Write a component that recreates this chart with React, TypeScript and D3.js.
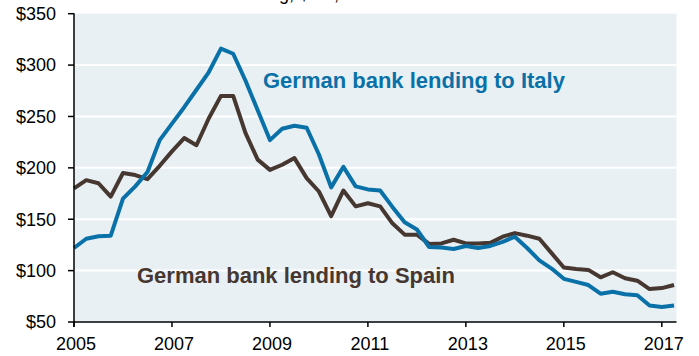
import React from "react";
import * as d3 from "d3";

const startYear = 2005;
const italy = [
  122, 131, 133.5, 134, 170, 182, 196, 227,
  243, 259, 276, 293, 316, 311, 285, 256,
  227, 238, 241, 239, 213, 181, 201, 182,
  179, 178, 162, 147, 140, 123, 122.5, 121,
  124, 122, 124, 128, 133, 122, 110, 102,
  92, 89, 86, 77.5, 79.5, 77, 76, 66,
  64.5, 66,
];
const spain = [
  180, 188, 185, 172, 195, 193, 189, 202,
  216, 229, 222, 248, 270, 270, 234, 208,
  198, 203, 209.5, 190, 177, 153, 178, 162.5,
  165.5, 162.5, 146, 135, 135, 126, 126.5, 130,
  126.5, 126.5, 127, 133, 136.5, 134, 131, 117,
  103, 101.5, 100.7, 93.5, 98.4, 92.6, 90.2, 82,
  83, 86,
];
const yTicks = [50, 100, 150, 200, 250, 300, 350];
const xTicks = [2005, 2007, 2009, 2011, 2013, 2015, 2017];
const seriesLabels = ["German bank lending to Italy", "German bank lending to Spain"];
const titleText = "Lending, $ bn,";

const W = 699;
const H = 356;
const BLUE = "#0a71a8";
const BROWN = "#463730";
const FONT = "Liberation Sans, Arial, Helvetica, sans-serif";

export default function App() {
  const x = d3.scaleLinear().domain([2005, 2017.3]).range([74, 676.5]);
  const y = d3.scaleLinear().domain([50, 350]).range([322, 13.7]);
  const t = (i: number) => startYear + i * 0.25;
  const line = d3
    .line<number>()
    .x((_, i) => x(t(i)))
    .y((d) => y(d))
    .curve(d3.curveLinear);

  const [x0, x1] = x.range();
  const [yb, yt] = y.range();

  return (
    <div style={{ position: "absolute", left: 0, top: 0 }}>
      <svg width={W} height={H} style={{ display: "block", background: "#fff" }}>
        <text x={339} y={-0.5} textAnchor="end" fontFamily={FONT} fontSize={18} fill="#000">
          {titleText}
        </text>
        <rect x={x0} y={yt} width={x1 - x0} height={yb - yt} fill="#e9f0f4" />
        {yTicks.slice(1, -1).map((v) => (
          <line key={v} x1={x0} x2={x1} y1={y(v)} y2={y(v)} stroke="#fff" strokeWidth={2} />
        ))}
        <path d={line(spain) || ""} fill="none" stroke={BROWN} strokeWidth={4} strokeLinejoin="round" />
        <path d={line(italy) || ""} fill="none" stroke={BLUE} strokeWidth={4} strokeLinejoin="round" />
        {/* axes */}
        <line x1={x0} x2={x0} y1={yt - 0.5} y2={yb + 5} stroke="#000" strokeWidth={1.5} />
        <line x1={x0} x2={x1} y1={yb} y2={yb} stroke="#000" strokeWidth={1.5} />
        {yTicks.map((v) => (
          <g key={v}>
            <line x1={x0 - 6} x2={x0} y1={y(v)} y2={y(v)} stroke="#000" strokeWidth={1.5} />
            <text
              x={56}
              y={y(v)}
              dy="0.35em"
              textAnchor="end"
              fontFamily={FONT}
              fontSize={18}
              fill="#000"
            >
              {`$${v}`}
            </text>
          </g>
        ))}
        {xTicks.map((v) => (
          <g key={v}>
            <line x1={x(v)} x2={x(v)} y1={yb} y2={yb + 5} stroke="#000" strokeWidth={1.5} />
            <text
              x={x(v) + 2}
              y={350}
              textAnchor="middle"
              fontFamily={FONT}
              fontSize={18}
              fill="#000"
            >
              {v}
            </text>
          </g>
        ))}
        <text x={263} y={88} fontFamily={FONT} fontSize={22} fontWeight="bold" fill={BLUE}>
          {seriesLabels[0]}
        </text>
        <text x={137} y={283} fontFamily={FONT} fontSize={22} fontWeight="bold" fill={BROWN}>
          {seriesLabels[1]}
        </text>
      </svg>
    </div>
  );
}
